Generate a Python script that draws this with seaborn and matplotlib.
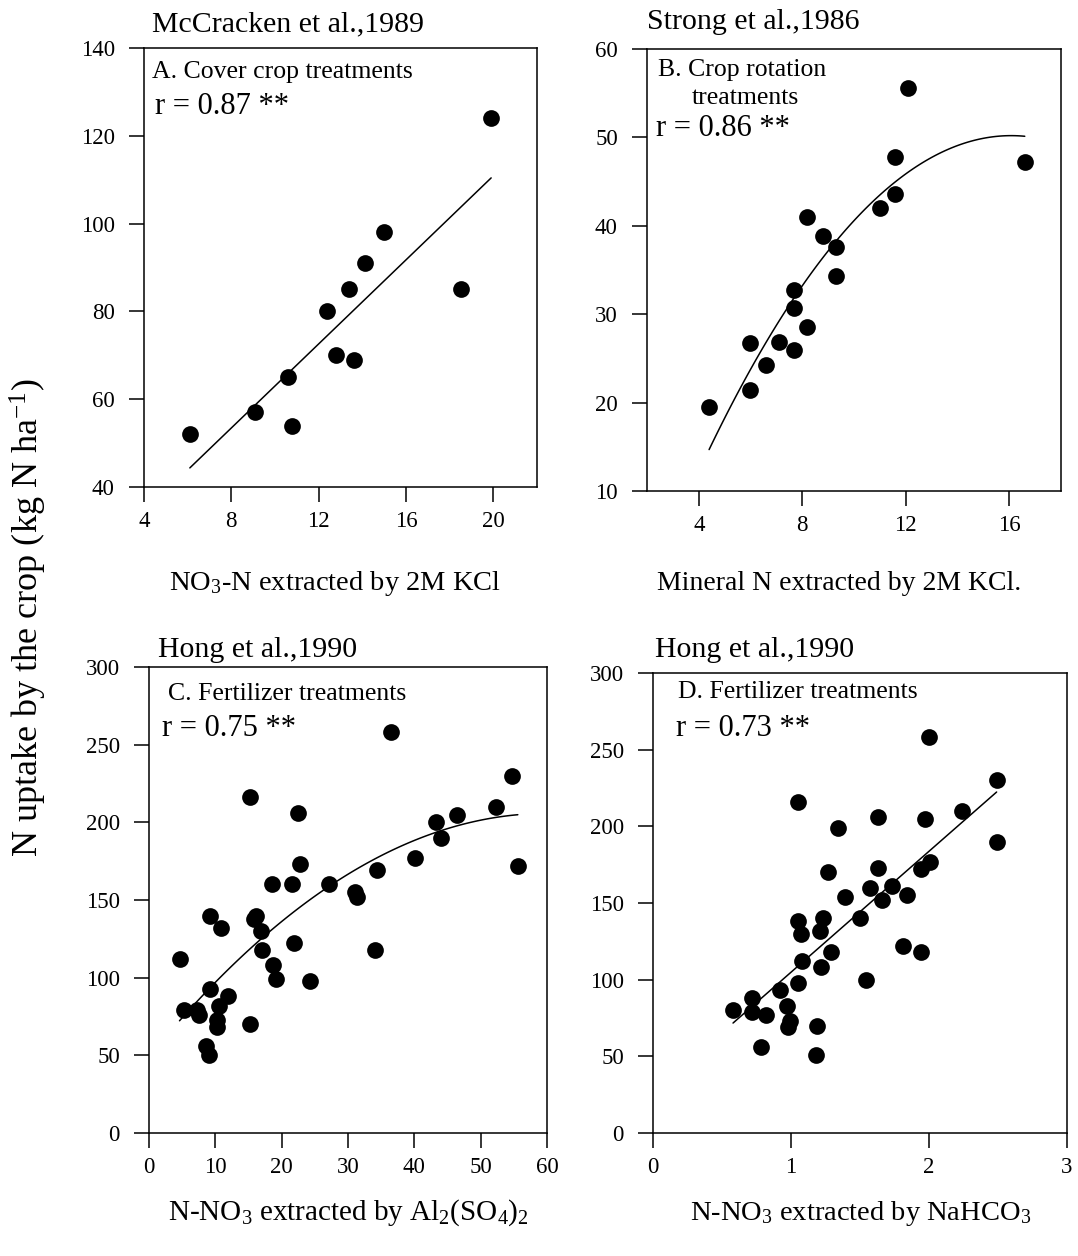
import numpy as np
import matplotlib
matplotlib.use("Agg")
import matplotlib.pyplot as plt
import seaborn as sns

# ---- data -------------------------------------------------------------
# A. McCracken et al., 1989 - cover crop treatments
a_x = [6.1, 9.1, 10.6, 10.8, 12.4, 12.8, 13.6, 13.4, 14.1, 15.0, 18.5, 19.9]
a_y = [52, 57, 65, 54, 80, 70, 69, 85, 91, 98, 85, 124]

# B. Strong et al., 1986 - crop rotation treatments
b_x = [4.4, 6.0, 6.0, 6.6, 7.1, 7.7, 7.7, 7.7, 8.2, 8.2, 8.8, 9.3, 9.3,
       11.0, 11.6, 11.6, 12.1, 16.6]
b_y = [19.5, 26.7, 21.4, 24.3, 26.8, 25.9, 30.7, 32.7, 28.6, 41.0, 38.9,
       37.6, 34.3, 42.0, 43.6, 47.8, 55.6, 47.2]

# C. Hong et al., 1990 - N-NO3 by Al2(SO4)2
c_x = [4.6, 5.3, 7.2, 7.6, 8.6, 9.0, 9.2, 9.2, 10.8, 10.3,
       10.2, 10.6, 11.9, 15.3, 15.2, 15.8, 16.2, 16.9, 17.1, 18.6,
       18.7, 19.2, 21.5, 21.9, 22.4, 22.8, 24.3, 27.1, 31.1, 31.4,
       34.1, 34.3, 36.5, 40.1, 43.3, 44.0, 46.4, 52.3, 54.7, 55.6]
c_y = [112, 79, 79, 76, 56, 50, 93, 140, 132, 73,
       68, 82, 88, 216, 70, 138, 140, 130, 118, 160,
       108, 99, 160, 122, 206, 173, 98, 160, 155, 152,
       118, 169, 258, 177, 200, 190, 205, 210, 230, 172]

# D. Hong et al., 1990 - N-NO3 by NaHCO3
d_x = [0.58, 0.72, 0.72, 0.82, 0.78, 0.92, 0.97, 0.99, 0.98, 1.05,
       1.05, 1.05, 1.07, 1.08, 1.19, 1.18, 1.21, 1.23, 1.22, 1.29,
       1.27, 1.34, 1.39, 1.50, 1.54, 1.57, 1.63, 1.63, 1.66, 1.73,
       1.81, 1.84, 1.94, 1.94, 1.97, 2.01, 2.00, 2.24, 2.49, 2.49]
d_y = [80, 88, 79, 77, 56, 93, 83, 73, 69, 216,
       98, 138, 130, 112, 70, 51, 132, 140, 108, 118,
       170, 199, 154, 140, 100, 160, 173, 206, 152, 161,
       122, 155, 118, 172, 205, 177, 258, 210, 230, 190]

sources = ["McCracken et al.,1989", "Strong et al.,1986",
           "Hong et al.,1990", "Hong et al.,1990"]
r_labels = ["r = 0.87 **", "r = 0.86 **", "r = 0.75 **", "r = 0.73 **"]
x_labels = ["NO$_3$-N extracted by 2M KCl",
            "Mineral N extracted by 2M KCl.",
            "N-NO$_3$ extracted by Al$_2$(SO$_4$)$_2$",
            "N-NO$_3$ extracted by NaHCO$_3$"]
y_label = "N uptake by the crop (kg N ha$^{-1}$)"

# ---- style ------------------------------------------------------------
sns.set_theme(style="ticks")
plt.rcParams["font.family"] = ["Liberation Serif", "DejaVu Serif"]
plt.rcParams["mathtext.fontset"] = "custom"
plt.rcParams["mathtext.rm"] = "Liberation Serif"
plt.rcParams["mathtext.it"] = "Liberation Serif:italic"
plt.rcParams["axes.linewidth"] = 1.1
plt.rcParams["axes.edgecolor"] = "black"

W, H = 1078, 1256
fig = plt.figure(figsize=(W / 100, H / 100), dpi=100)


def box(left, top, right, bottom):
    return [left / W, 1 - bottom / H, (right - left) / W, (bottom - top) / H]


def ftext(x, y, s, **kw):
    fig.text(x / W, 1 - y / H, s, color="black", **kw)


axes_px = [(144, 48, 537, 487), (647, 49, 1061, 491),
           (149, 667, 547, 1133), (653, 673, 1067, 1133)]
panels = [
    dict(x=a_x, y=a_y, order=1, xlim=(4, 22), xt=[4, 8, 12, 16, 20],
         ylim=(40, 140), yt=np.arange(40, 141, 20)),
    dict(x=b_x, y=b_y, order=2, xlim=(2, 18), xt=[4, 8, 12, 16],
         ylim=(10, 60), yt=np.arange(10, 61, 10)),
    dict(x=c_x, y=c_y, order=2, xlim=(0, 60), xt=np.arange(0, 61, 10),
         ylim=(0, 300), yt=np.arange(0, 301, 50)),
    dict(x=d_x, y=d_y, order=1, xlim=(0, 3), xt=[0, 1, 2, 3],
         ylim=(0, 300), yt=np.arange(0, 301, 50)),
]

for rect, p in zip(axes_px, panels):
    ax = fig.add_axes(box(*rect))
    sns.regplot(x=np.array(p["x"]), y=np.array(p["y"]), ax=ax, ci=None,
                order=p["order"],
                scatter_kws=dict(s=145, color="black", linewidths=0, alpha=1),
                line_kws=dict(color="black", lw=1.1))
    ax.set_xlim(*p["xlim"])
    ax.set_ylim(*p["ylim"])
    ax.set_xticks(p["xt"])
    ax.set_yticks(p["yt"])
    ax.set_xlabel("")
    ax.set_ylabel("")
    for s in ax.spines.values():
        s.set_visible(True)
        s.set_linewidth(1.1)
    ax.tick_params(axis="both", direction="out", length=11, width=1.1,
                   colors="black", labelsize=16.5)
    ax.tick_params(axis="y", pad=10)
    ax.tick_params(axis="x", pad=6)

# titles above each panel
ftext(152, 24, sources[0], fontsize=21.5, va="center", ha="left")
ftext(647, 22, sources[1], fontsize=21.5, va="center", ha="left")
ftext(158, 650, sources[2], fontsize=21.5, va="center", ha="left")
ftext(655, 650, sources[3], fontsize=21.5, va="center", ha="left")

# treatment captions and correlation coefficients
ftext(152, 72, "A. Cover crop treatments", fontsize=18.5, va="center")
ftext(155, 106, r_labels[0], fontsize=22, va="center")
ftext(658, 70, "B. Crop rotation", fontsize=18.5, va="center")
ftext(692, 98, "treatments", fontsize=18.5, va="center")
ftext(656, 129, r_labels[1], fontsize=22, va="center")
ftext(168, 694, "C. Fertilizer treatments", fontsize=18.5, va="center")
ftext(162, 729, r_labels[2], fontsize=22, va="center")
ftext(678, 692, "D. Fertilizer treatments", fontsize=18.5, va="center")
ftext(676, 728, r_labels[3], fontsize=22, va="center")

# axis labels
ftext(335, 583, x_labels[0], fontsize=20.5, ha="center", va="center")
ftext(839, 583, x_labels[1], fontsize=20, ha="center", va="center")
ftext(348, 1213, x_labels[2], fontsize=21, ha="center", va="center")
ftext(861, 1213, x_labels[3], fontsize=20.5, ha="center", va="center")
ftext(28, 618, y_label, fontsize=26, ha="center", va="center", rotation=90)

fig.savefig("out.png", dpi=100, facecolor="white")
